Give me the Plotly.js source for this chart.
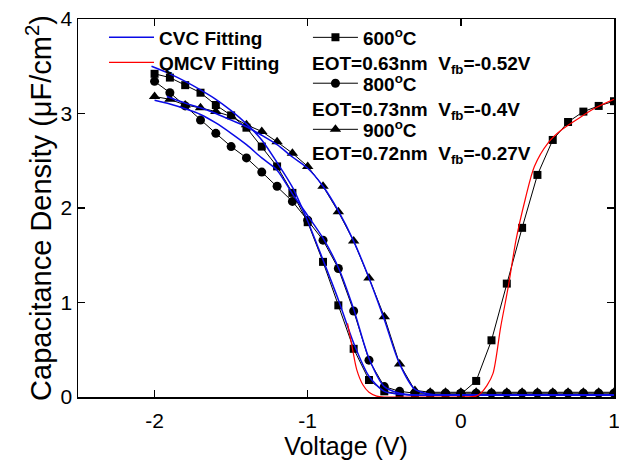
<!DOCTYPE html>
<html>
<head>
<meta charset="utf-8">
<script src="https://cdn.plot.ly/plotly-3.0.1.min.js"></script>
<style>html,body{margin:0;padding:0;background:#fff;}#chart{width:619px;height:464px;}</style>
</head>
<body>
<div id="chart"></div>
<script>
// Measured voltages (V)
var voltage = [-2.0, -1.9, -1.8, -1.7, -1.6, -1.5, -1.4, -1.3, -1.2, -1.1, -1.0, -0.9, -0.8, -0.7, -0.6, -0.5, -0.4, -0.3, -0.2, -0.1, 0.0, 0.1, 0.2, 0.3, 0.4, 0.5, 0.6, 0.7, 0.8, 0.9, 1.0];
// Measured capacitance density (uF/cm^2)
var c600 = [3.42, 3.38, 3.30, 3.22, 3.09, 2.98, 2.85, 2.65, 2.44, 2.16, 1.85, 1.43, 0.97, 0.51, 0.18, 0.06, 0.03, 0.02, 0.02, 0.02, 0.03, 0.17, 0.60, 1.20, 1.79, 2.35, 2.72, 2.91, 3.02, 3.08, 3.13];
var c800 = [3.34, 3.22, 3.08, 2.93, 2.79, 2.65, 2.53, 2.38, 2.23, 2.07, 1.87, 1.66, 1.36, 0.91, 0.39, 0.11, 0.06, 0.04, 0.04, 0.04, 0.04, 0.04, 0.04, 0.04, 0.04, 0.04, 0.04, 0.04, 0.04, 0.04, 0.04];
var c900 = [3.18, 3.15, 3.09, 3.06, 3.02, 2.97, 2.88, 2.81, 2.70, 2.58, 2.44, 2.23, 1.96, 1.65, 1.26, 0.85, 0.35, 0.07, 0.05, 0.05, 0.05, 0.05, 0.05, 0.05, 0.05, 0.05, 0.05, 0.05, 0.05, 0.05, 0.05];

// CVC fitting curves
var cvc600V = [-2.02, -1.9, -1.8, -1.7, -1.6, -1.5, -1.4, -1.3, -1.2, -1.1, -1.0, -0.9, -0.8, -0.7, -0.6, -0.5, -0.4, -0.3, -0.2, 0.0, 0.5, 1.0];
var cvc600C = [3.50, 3.42, 3.34, 3.25, 3.15, 3.03, 2.89, 2.72, 2.48, 2.22, 1.86, 1.45, 1.03, 0.57, 0.22, 0.06, 0.03, 0.02, 0.02, 0.02, 0.02, 0.02];
var cvc800V = [-2.0, -1.9, -1.8, -1.7, -1.6, -1.5, -1.4, -1.3, -1.2, -1.1, -1.0, -0.9, -0.8, -0.7, -0.6, -0.5, -0.4, -0.3, -0.2, 0.0, 0.5, 1.0];
var cvc800C = [3.14, 3.10, 3.05, 2.99, 2.90, 2.79, 2.67, 2.53, 2.40, 2.15, 1.92, 1.68, 1.37, 0.93, 0.41, 0.11, 0.04, 0.02, 0.02, 0.02, 0.02, 0.02];
var cvc900V = [-1.92, -1.8, -1.7, -1.6, -1.5, -1.4, -1.3, -1.2, -1.1, -1.0, -0.9, -0.8, -0.7, -0.6, -0.5, -0.4, -0.3, -0.2, -0.1, 0.0, 0.5, 1.0];
var cvc900C = [3.18, 3.11, 3.06, 3.00, 2.93, 2.86, 2.77, 2.67, 2.54, 2.42, 2.23, 1.97, 1.65, 1.26, 0.82, 0.35, 0.08, 0.03, 0.02, 0.02, 0.02, 0.02];

// QMCV fitting curve
var qmcvV = [-0.74, -0.71, -0.68, -0.64, -0.6, -0.55, -0.5, -0.4, -0.2, 0.0, 0.1, 0.13, 0.17, 0.21, 0.26, 0.31, 0.36, 0.42, 0.48, 0.57, 0.66, 0.77, 0.88, 1.0];
var qmcvC = [0.78, 0.53, 0.29, 0.13, 0.05, 0.01, 0.0, 0.0, 0.0, 0.0, 0.01, 0.04, 0.12, 0.25, 0.74, 1.17, 1.66, 2.09, 2.44, 2.69, 2.83, 2.95, 3.06, 3.15];

var seriesNames = ['600<sup>o</sup>C', '800<sup>o</sup>C', '900<sup>o</sup>C'];
var eotLabels = ['EOT=0.63nm  V<sub>fb</sub>=-0.52V', 'EOT=0.73nm  V<sub>fb</sub>=-0.4V', 'EOT=0.72nm  V<sub>fb</sub>=-0.27V'];
var fitNames = ['CVC Fitting', 'QMCV Fitting'];
var xTicks = [-2, -1, 0, 1];
var yTicks = [0, 1, 2, 3, 4];

var FONT = 'Liberation Sans, Arial, sans-serif';
var blue = '#0a0ae6';
var legFont = {family: FONT, size: 19, color: 'black', weight: 'bold'};

var traces = [
  {x: voltage, y: c600, name: seriesNames[0], mode: 'lines+markers', legend: 'legend3',
   line: {color: 'black', width: 1}, marker: {symbol: 'square', size: 8, color: 'black'}},
  {x: voltage, y: c800, name: seriesNames[1], mode: 'lines+markers', legend: 'legend4',
   line: {color: 'black', width: 1}, marker: {symbol: 'circle', size: 9, color: 'black'}},
  {x: voltage, y: c900, name: seriesNames[2], mode: 'lines+markers', legend: 'legend5',
   line: {color: 'black', width: 1}, marker: {symbol: 'triangle-up', size: 10, color: 'black'}},
  {x: cvc600V, y: cvc600C, name: fitNames[0], mode: 'lines', legend: 'legend', line: {color: blue, width: 1.5, shape: 'spline', smoothing: 0.8}},
  {x: cvc800V, y: cvc800C, name: fitNames[0], mode: 'lines', showlegend: false, line: {color: blue, width: 1.5, shape: 'spline', smoothing: 0.8}},
  {x: cvc900V, y: cvc900C, name: fitNames[0], mode: 'lines', showlegend: false, line: {color: blue, width: 1.5, shape: 'spline', smoothing: 0.8}},
  {x: qmcvV, y: qmcvC, name: fitNames[1], mode: 'lines', legend: 'legend2', line: {color: '#ff0000', width: 1.2, shape: 'spline', smoothing: 0.8}}
];

var annotations = eotLabels.map(function (t, i) {
  return {text: t, xref: 'paper', yref: 'paper', x: 0.433, y: [0.879, 0.757, 0.640][i],
    xanchor: 'left', yanchor: 'middle', showarrow: false,
    font: {family: FONT, size: 19, color: 'black', weight: 'bold'}};
});

var axisCommon = {showline: true, linecolor: 'black', linewidth: 1.5, mirror: 'ticks', ticks: 'inside',
  ticklen: 7, tickwidth: 1.5, tickcolor: 'black', showgrid: false, zeroline: false,
  tickfont: {family: FONT, size: 21, color: 'black'}};

function leg(x, y) {
  return {x: x, y: y, xanchor: 'left', yanchor: 'top', bgcolor: 'rgba(0,0,0,0)', itemwidth: 45, font: legFont};
}

var layout = {
  width: 619, height: 464,
  margin: {l: 78, r: 5, t: 19, b: 67},
  paper_bgcolor: 'white', plot_bgcolor: 'white',
  xaxis: Object.assign({}, axisCommon, {range: [-2.5, 1.0], tickvals: xTicks, ticktext: xTicks.map(String),
    ticklabelstandoff: 4, ticklabeloverflow: 'allow',
    title: {text: 'Voltage (V)', font: {family: FONT, size: 25, color: 'black'}, standoff: 2}}),
  yaxis: Object.assign({}, axisCommon, {range: [0, 4], tickvals: yTicks, ticktext: yTicks.map(String),
    title: {text: 'Capacitance Density (\u03bcF/cm<sup>2</sup>)', font: {family: FONT, size: 29, color: 'black'}, standoff: 0}}),
  legend: leg(0.0485, 1.0013),
  legend2: leg(0.0485, 0.935),
  legend3: leg(0.429, 1.0013),
  legend4: leg(0.429, 0.880),
  legend5: leg(0.429, 0.758),
  annotations: annotations,
  showlegend: true
};

Plotly.newPlot('chart', traces, layout, {displayModeBar: false, staticPlot: true});
</script>
</body>
</html>
